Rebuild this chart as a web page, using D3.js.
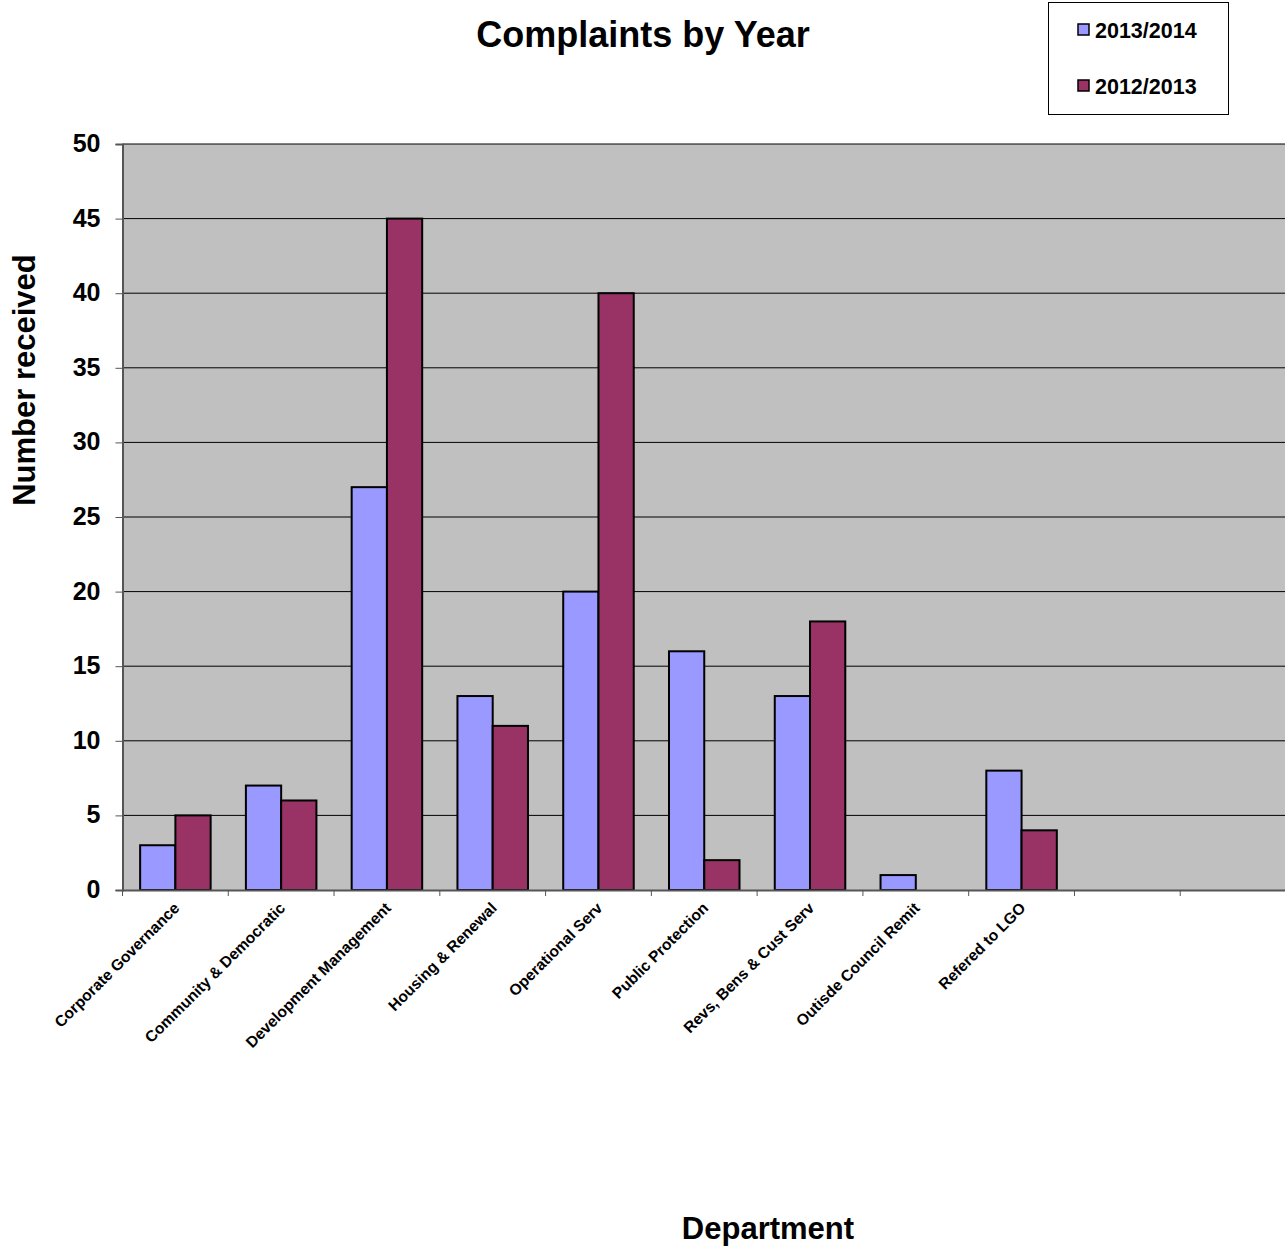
<!DOCTYPE html>
<html><head><meta charset="utf-8">
<script src="https://cdn.jsdelivr.net/npm/d3@7"></script>
<style>body{margin:0;background:#fff}svg{display:block;font-family:"Liberation Sans",Arial,sans-serif}</style>
</head><body>
<script>
const categories = ["Corporate Governance","Community & Democratic","Development Management","Housing & Renewal","Operational Serv","Public Protection","Revs, Bens & Cust Serv","Outisde Council Remit","Refered to LGO","",""];
const series2013_2014 = [3,7,27,13,20,16,13,1,8,null,null];
const series2012_2013 = [5,6,45,11,40,2,18,0,4,null,null];
const seriesNames = ["2013/2014","2012/2013"];
const seriesColors = ["#9999FF","#993366"];
const yTicks = [0,5,10,15,20,25,30,35,40,45,50];

const W=1285,H=1250;
const svg=d3.select("body").append("svg").attr("width",W).attr("height",H);
const L=122.5,R=1286,T=144,B=890;
const x=d3.scaleBand().domain(categories.map((c,i)=>i)).range([L,R]).paddingInner(0).paddingOuter(0);
const y=d3.scaleLinear().domain([0,50]).range([B,T]);
const sub=d3.scaleBand().domain([0,1]).range([x.bandwidth()/6,x.bandwidth()*5/6]);

svg.append("rect").attr("x",L).attr("y",T).attr("width",R-L).attr("height",B-T).attr("fill","#C0C0C0");
svg.append("g").selectAll("line").data(yTicks.filter(d=>d>0)).join("line")
 .attr("x1",L).attr("x2",R).attr("y1",d=>y(d)).attr("y2",d=>y(d)).attr("stroke","#000").attr("stroke-width",1);

const seriesData=[series2013_2014,series2012_2013];
seriesData.forEach((vals,s)=>{
  svg.append("g").selectAll("rect").data(vals.map((v,i)=>({v,i})).filter(d=>d.v)).join("rect")
   .attr("x",d=>x(d.i)+sub(s)).attr("width",sub.bandwidth())
   .attr("y",d=>y(d.v)).attr("height",d=>B-y(d.v))
   .attr("fill",seriesColors[s]).attr("stroke","#000").attr("stroke-width",2);
});

// axes
const ya=svg.append("g").attr("transform",`translate(${L},0)`)
 .call(d3.axisLeft(y).tickValues(yTicks).tickSize(7).tickPadding(15));
ya.select(".domain").attr("stroke","#555").attr("stroke-width",2);
ya.selectAll(".tick line").attr("stroke","#555");
ya.selectAll("text").attr("font-size",25).attr("font-weight","bold").attr("fill","#000").attr("dy","0.3em").attr("font-family","Liberation Sans, Arial, sans-serif");

const xa=svg.append("g").attr("transform",`translate(0,${B})`)
 .call(d3.axisBottom(x).tickValues([]).tickSizeOuter(0));
xa.select(".domain").attr("stroke","#555").attr("stroke-width",2);
svg.append("g").selectAll("line").data(d3.range(categories.length+1)).join("line")
 .attr("x1",i=>L+i*x.bandwidth()).attr("x2",i=>L+i*x.bandwidth()).attr("y1",B).attr("y2",B+6).attr("stroke","#555");
svg.append("g").selectAll("text").data(categories.map((c,i)=>({c,i}))).join("text")
 .attr("transform",d=>`translate(${x(d.i)+x.bandwidth()/2+5},${B+19}) rotate(-45)`)
 .attr("text-anchor","end").attr("font-size",15.6).attr("font-weight","bold").text(d=>d.c);

// titles
svg.append("text").attr("x",643).attr("y",47).attr("text-anchor","middle").attr("font-size",36).attr("font-weight","bold").text("Complaints by Year");
svg.append("text").attr("transform","translate(35,380) rotate(-90)").attr("text-anchor","middle").attr("font-size",31).attr("font-weight","bold").text("Number received");
svg.append("text").attr("x",768).attr("y",1239).attr("text-anchor","middle").attr("font-size",31).attr("font-weight","bold").text("Department");

// legend
const lg=svg.append("g");
lg.append("rect").attr("x",1048.5).attr("y",2.5).attr("width",180).attr("height",112).attr("fill","#fff").attr("stroke","#000").attr("stroke-width",1);
seriesNames.forEach((n,i)=>{
  const yy=[30,86][i];
  lg.append("rect").attr("x",1078).attr("y",yy-6).attr("width",11).attr("height",11).attr("fill",seriesColors[i]).attr("stroke","#000").attr("stroke-width",1.5);
  lg.append("text").attr("x",1095).attr("y",yy+8).attr("font-size",21.5).attr("font-weight","bold").text(n);
});
</script>
</body></html>
